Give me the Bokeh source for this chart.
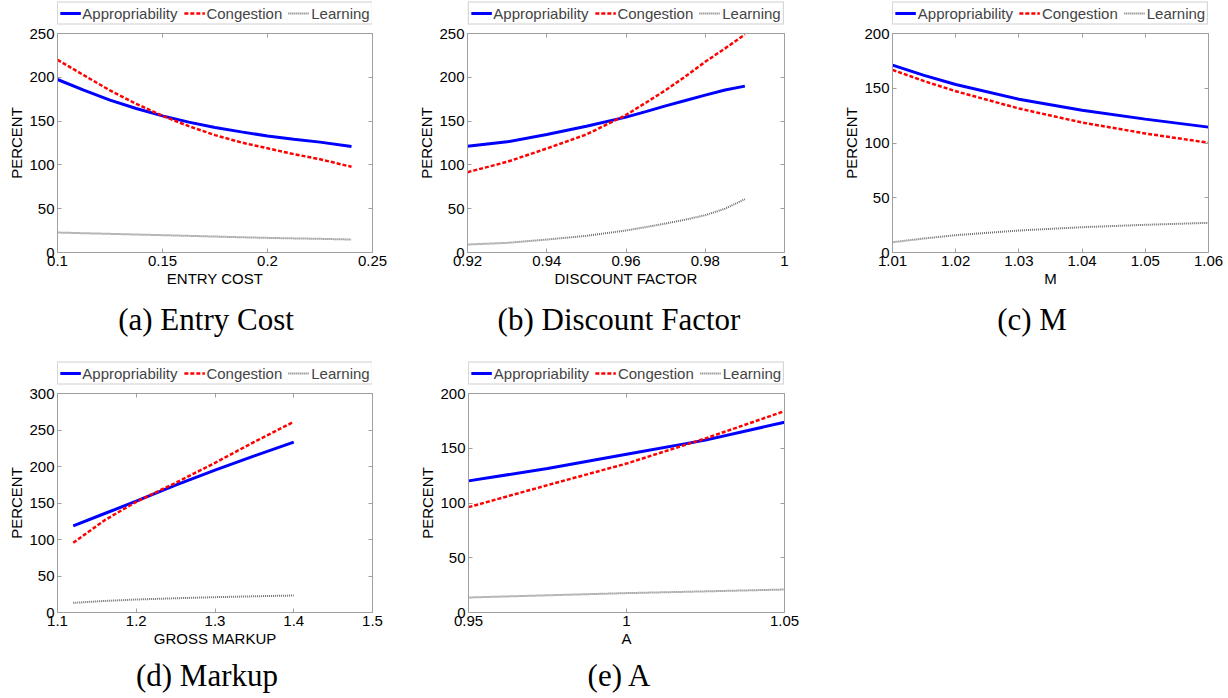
from bokeh.plotting import figure
from bokeh.models import Range1d, LinearAxis, Legend, LegendItem, FixedTicker, Div
from bokeh.layouts import column, row
from bokeh.embed import file_html
from bokeh.resources import INLINE

SERIES = ["Appropriability", "Congestion", "Learning"]
Y_LABEL = "PERCENT"

# (a) Entry cost
a_x = [0.10, 0.1125, 0.125, 0.1375, 0.15, 0.1625, 0.175, 0.1875, 0.20, 0.2125, 0.225, 0.24]
a_app = [197.5, 185.3, 174.0, 164.4, 156.0, 148.8, 142.7, 137.7, 133.0, 129.4, 126.0, 121.0]
a_con = [220.0, 202.4, 185.0, 169.7, 156.0, 144.2, 134.0, 125.6, 119.0, 112.3, 106.5, 97.8]
a_lea = [22.8, 22.0, 21.3, 20.5, 19.8, 19.0, 18.2, 17.4, 16.7, 16.1, 15.6, 14.8]
a_xticks = [0.1, 0.15, 0.2, 0.25]
a_xlabels = ["0.1", "0.15", "0.2", "0.25"]
a_yticks = [0, 50, 100, 150, 200, 250]

# (b) Discount factor
b_x = [0.92, 0.93, 0.94, 0.95, 0.96, 0.965, 0.97, 0.975, 0.98, 0.985, 0.99]
b_app = [121.4, 126.3, 134.7, 144.2, 154.5, 160.8, 167.4, 173.5, 179.6, 185.5, 189.9]
b_con = [91.7, 103.5, 118.7, 134.7, 157.0, 171.0, 185.3, 201.0, 217.7, 233.0, 248.9]
b_lea = [9.1, 11.0, 14.8, 19.0, 25.1, 29.0, 33.1, 37.5, 42.6, 50.0, 60.9]
b_xticks = [0.92, 0.94, 0.96, 0.98, 1.0]
b_xlabels = ["0.92", "0.94", "0.96", "0.98", "1"]
b_yticks = [0, 50, 100, 150, 200, 250]

# (c) M
c_x = [1.01, 1.015, 1.02, 1.03, 1.04, 1.05, 1.06]
c_app = [171.1, 161.8, 153.4, 140.0, 130.0, 121.8, 114.5]
c_con = [166.8, 156.5, 147.3, 131.5, 118.7, 108.7, 100.2]
c_lea = [9.4, 12.8, 15.8, 20.1, 23.1, 25.3, 27.1]
c_xticks = [1.01, 1.02, 1.03, 1.04, 1.05, 1.06]
c_xlabels = ["1.01", "1.02", "1.03", "1.04", "1.05", "1.06"]
c_yticks = [0, 50, 100, 150, 200]

# (d) Markup
d_x = [1.12, 1.16, 1.20, 1.25, 1.30, 1.35, 1.40]
d_app = [118.7, 135.6, 152.5, 174.4, 195.0, 214.6, 233.3]
d_con = [95.4, 126.5, 151.6, 177.6, 205.0, 233.8, 261.2]
d_lea = [13.2, 15.8, 17.8, 19.5, 21.0, 22.2, 23.3]
d_xticks = [1.1, 1.2, 1.3, 1.4, 1.5]
d_xlabels = ["1.1", "1.2", "1.3", "1.4", "1.5"]
d_yticks = [0, 50, 100, 150, 200, 250, 300]

# (e) A
e_x = [0.95, 0.975, 1.0, 1.025, 1.05]
e_app = [120.2, 131.5, 144.6, 157.4, 173.8]
e_con = [96.2, 116.3, 136.0, 159.0, 183.9]
e_lea = [13.7, 15.7, 17.7, 19.3, 21.0]
e_xticks = [0.95, 1.0, 1.05]
e_xlabels = ["0.95", "1", "1.05"]
e_yticks = [0, 50, 100, 150, 200]

GRAY = "#a0a0a0"
SANS = "Liberation Sans"
SERIF = "Liberation Serif"
STYLES = [dict(line_color="#0000ff", line_width=3),
          dict(line_color="#ff0000", line_width=2.5, line_dash="4 2"),
          dict(line_color="#6e6e6e", line_width=2, line_dash="1 1")]

LEG_H = 25
TOP_B = 8
FRAME_H = 219
BOT_B = 42


def style_axis(ax, ticks, labels=None, show_labels=True):
    ax.ticker = FixedTicker(ticks=ticks)
    if show_labels:
        if labels is not None:
            ax.major_label_overrides = {t: s for t, s in zip(ticks, labels)}
        ax.major_label_text_font_size = "15px"
        ax.major_label_standoff = 3
    else:
        ax.major_label_overrides = {t: "" for t in ticks}
        ax.major_label_text_font_size = "1px"
        ax.major_label_standoff = 0
    ax.axis_line_color = GRAY
    ax.major_tick_line_color = GRAY
    ax.major_tick_in = 4
    ax.major_tick_out = 0
    ax.minor_tick_line_color = None
    ax.major_label_text_font = SANS
    ax.major_label_text_color = "black"
    ax.axis_label_text_font = SANS
    ax.axis_label_text_font_size = "15px"
    ax.axis_label_text_font_style = "normal"
    ax.axis_label_text_color = "black"
    ax.axis_label_standoff = 1


def panel(x, app, con, lea, xr, yr, xticks, xlabels, yticks, xlabel, caption,
          width, bl, br, cap_h, cap_lh, cap_shift):
    # legend strip above the axes box: same series, drawn out of view, only the key shows
    lf = figure(width=width, height=LEG_H, x_range=Range1d(*xr),
                y_range=Range1d(-2 * yr[1], -yr[1]),
                x_axis_type=None, y_axis_type=None, output_backend="svg",
                toolbar_location=None, min_border_left=bl - 6, min_border_right=br - 6,
                min_border_top=0, min_border_bottom=0)
    lf.outline_line_color = None
    lf.grid.visible = False
    lr = [lf.line(x, ys, **s) for ys, s in zip((app, con, lea), STYLES)]
    legend = Legend(items=[LegendItem(label=SERIES[i], renderers=[lr[i]]) for i in range(3)],
                    orientation="horizontal", location="center",
                    border_line_color=GRAY, border_line_width=1,
                    background_fill_color="white", background_fill_alpha=1.0,
                    label_text_font=SANS, label_text_font_size="15px",
                    glyph_width=21, glyph_height=15, label_height=15,
                    label_standoff=2, spacing=6, padding=2, margin=0)
    lf.add_layout(legend, "center")

    p = figure(width=width, height=TOP_B + FRAME_H + BOT_B, x_range=Range1d(*xr),
               y_range=Range1d(*yr), output_backend="svg", toolbar_location=None,
               min_border_left=bl, min_border_right=br, min_border_top=TOP_B,
               min_border_bottom=BOT_B)
    p.xgrid.visible = False
    p.ygrid.visible = False
    p.outline_line_color = GRAY
    p.outline_line_width = 1
    p.background_fill_color = "white"
    p.border_fill_color = "white"

    p.line(x, app, **STYLES[0])
    p.line(x, con, **STYLES[1])
    p.line(x, lea, **STYLES[2])

    style_axis(p.xaxis[0], xticks, xlabels)
    style_axis(p.yaxis[0], yticks)
    p.xaxis[0].axis_label = xlabel
    p.yaxis[0].axis_label = Y_LABEL

    top = LinearAxis()
    style_axis(top, xticks, show_labels=False)
    right = LinearAxis()
    style_axis(right, yticks, show_labels=False)
    p.add_layout(top, "above")
    p.add_layout(right, "right")

    pad_l = max(cap_shift, 0) * 2
    pad_r = max(-cap_shift, 0) * 2
    cap = Div(text=(f'<div style="width:{width - pad_l - pad_r}px;padding-left:{pad_l}px;'
                    f'text-align:center;font-family:\'{SERIF}\';font-size:31px;'
                    f'line-height:{cap_lh}px;color:black;white-space:nowrap;">{caption}</div>'),
              width=width, height=cap_h, margin=0)
    return column(lf, p, cap, spacing=0)


pa = panel(a_x, a_app, a_con, a_lea, (0.1, 0.25), (0, 250), a_xticks, a_xlabels, a_yticks,
           "ENTRY COST", "(a) Entry Cost", 414, 57, 42, 66, 52, -1)
pb = panel(b_x, b_app, b_con, b_lea, (0.92, 1.0), (0, 250), b_xticks, b_xlabels, b_yticks,
           "DISCOUNT FACTOR", "(b) Discount Factor", 422, 53, 52, 66, 52, -6)
pc = panel(c_x, c_app, c_con, c_lea, (1.01, 1.06), (0, 200), c_xticks, c_xlabels, c_yticks,
           "M", "(c) M", 392, 56, 20, 66, 52, 8)
pd = panel(d_x, d_app, d_con, d_lea, (1.1, 1.5), (0, 300), d_xticks, d_xlabels, d_yticks,
           "GROSS MARKUP", "(d) Markup", 414, 57, 42, 44, 44, 0)
pe = panel(e_x, e_app, e_con, e_lea, (0.95, 1.05), (0, 200), e_xticks, e_xlabels, e_yticks,
           "A", "(e) A", 422, 54, 52, 44, 44, -6)

layout = column(row(pa, pb, pc, spacing=0), row(pd, pe, spacing=0), spacing=0)
open("out.html", "w").write(file_html(layout, INLINE))
